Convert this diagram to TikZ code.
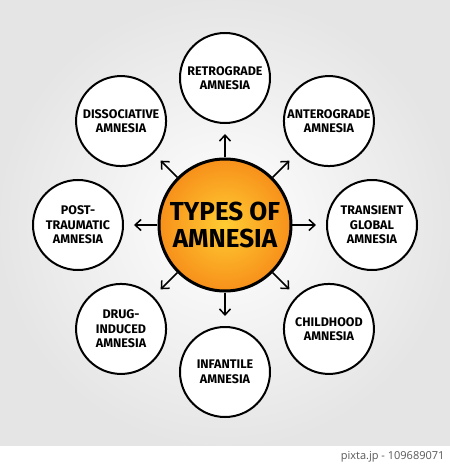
\documentclass[tikz,border=0pt]{standalone}
\usepackage{fontspec}
\setmainfont{Fira Sans}
\newfontfamily\stampfont{Open Sans}
\usetikzlibrary{arrows.meta}
\definecolor{ambergold}{HTML}{FFCC33}
\definecolor{deeporange}{HTML}{F7901A}

\begin{document}
\begin{tikzpicture}[x=1pt, y=1pt, >={Straight Barb[length=6pt,width=11pt]},
    typecirc/.style={circle, draw=black, line width=2pt, fill=white, minimum size=90pt,
        inner sep=0pt, align=center, font=\bfseries\fontsize{12.5}{14.5}\selectfont},
    hub/.style={circle, draw=black, line width=3pt, minimum size=132pt, inner sep=0pt,
        shading=radial, inner color=ambergold, outer color=deeporange,
        align=center, font=\bfseries\fontsize{26}{27}\selectfont},
    link/.style={->, line width=1.5pt, shorten >=10pt}]
        \useasboundingbox (-225,-244) rectangle (225,225);
        \fill[white] (-225,-244) rectangle (225,225);
        \shade[inner color=white, outer color=black!10] (-225,-220) rectangle (225,225);
        % centre
        \node[hub] (types) at (0,0) {TYPES OF\\AMNESIA};
        % the eight kinds
        \node[typecirc] (retro) at (90:147) {RETROGRADE\\AMNESIA};
        \node[typecirc] (antero) at (45:147) {ANTEROGRADE\\AMNESIA};
        \node[typecirc] (transient) at (0:147) {TRANSIENT\\GLOBAL\\AMNESIA};
        \node[typecirc] (childhood) at (-45:147) {CHILDHOOD\\AMNESIA};
        \node[typecirc] (infantile) at (-90:147) {INFANTILE\\AMNESIA};
        \node[typecirc] (drug) at (-135:147) {DRUG-\\INDUCED\\AMNESIA};
        \node[typecirc] (posttrauma) at (180:147) {POST-\\TRAUMATIC\\AMNESIA};
        \node[typecirc] (dissoc) at (135:147) {DISSOCIATIVE\\AMNESIA};
        \foreach \kind in {retro, antero, transient, childhood, infantile, drug, posttrauma, dissoc}
            \draw[link] (types) -- (\kind);
        \node[anchor=east, text=black!65, font=\stampfont\fontsize{11}{13}\selectfont] (stamp) at (223,-232) {pixta.jp - 109689071};
    \end{tikzpicture}
\end{document}
